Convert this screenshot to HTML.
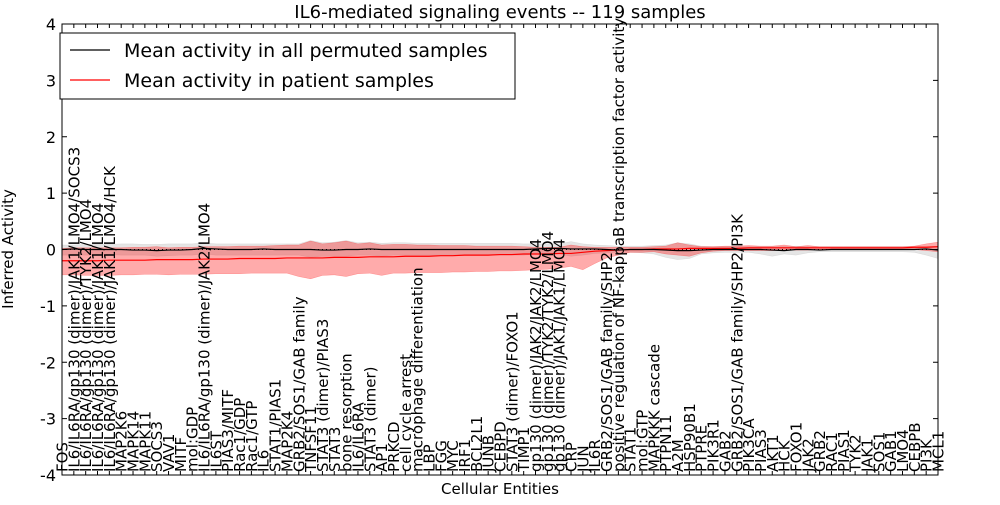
<!DOCTYPE html>
<html><head><meta charset="utf-8"><style>
body{margin:0;background:#fff}
svg{font-family:"DejaVu Sans","Liberation Sans",sans-serif}
</style></head><body>
<svg id="chart" width="1000" height="500" xmlns="http://www.w3.org/2000/svg">
<rect width="1000" height="500" fill="#fff"/>
<text x="500" y="18" text-anchor="middle" font-size="18">IL6-mediated signaling events -- 119 samples</text>
<text x="500" y="494" text-anchor="middle" font-size="15">Cellular Entities</text>
<text transform="translate(13,249) rotate(-90)" text-anchor="middle" font-size="15">Inferred Activity</text>
<g id="plot"></g>
<g id="legend">
<rect x="60" y="33" width="455" height="66" fill="#fff" stroke="#000" stroke-width="1"/>
<line x1="70" y1="50" x2="110" y2="50" stroke="#000" stroke-width="1.2"/>
<text x="124" y="57" font-size="19">Mean activity in all permuted samples</text>
<line x1="70" y1="80" x2="110" y2="80" stroke="#f00" stroke-width="1.2"/>
<text x="124" y="87" font-size="19">Mean activity in patient samples</text>
</g>
</svg>
<script>
const categories=["FOS","IL6/IL6RA/gp130 (dimer)/JAK1/LMO4/SOCS3","IL6/IL6RA/gp130 (dimer)/TYK2/LMO4","IL6/IL6RA/gp130 (dimer)/JAK1/LMO4","IL6/IL6RA/gp130 (dimer)/JAK1/LMO4/HCK","MAP2K6","MAPK14","MAPK11","SOCS3","VAV1","MITF","mol:GDP","IL6/IL6RA/gp130 (dimer)/JAK2/LMO4","IL6ST","PIAS3/MITF","Rac1/GDP","Rac1/GTP","IL6","STAT1/PIAS1","MAP2K4","GRB2/SOS1/GAB family","TNFSF11","STAT3 (dimer)/PIAS3","STAT3","bone resorption","IL6/IL6RA","STAT3 (dimer)","AP1","PRKCD","cell cycle arrest","macrophage differentiation","LBP","FGG","MYC","IRF1","BCL2L1","JUNB","CEBPD","STAT3 (dimer)/FOXO1","TIMP1","gp130 (dimer)/JAK2/JAK2/LMO4","gp130 (dimer)/TYK2/TYK2/LMO4","gp130 (dimer)/JAK1/JAK1/LMO4","CRP","JUN","IL6R","GRB2/SOS1/GAB family/SHP2","positive regulation of NF-kappaB transcription factor activity","STAT1","mol:GTP","MAPKKK cascade","PTPN11","A2M","HSP90B1","PTPRE","PIK3R1","GAB2","GRB2/SOS1/GAB family/SHP2/PI3K","PIK3CA","PIAS3","AKT1","HCK","FOXO1","JAK2","GRB2","RAC1","PIAS1","TYK2","JAK1","SOS1","GAB1","LMO4","CEBPB","PI3K","MCL1"];
const redMean=[-0.2,-0.2,-0.2,-0.2,-0.19,-0.19,-0.19,-0.19,-0.18,-0.18,-0.18,-0.18,-0.17,-0.17,-0.17,-0.16,-0.16,-0.16,-0.16,-0.15,-0.15,-0.15,-0.15,-0.14,-0.14,-0.14,-0.13,-0.13,-0.13,-0.12,-0.12,-0.12,-0.11,-0.11,-0.1,-0.1,-0.1,-0.09,-0.09,-0.08,-0.08,-0.08,-0.07,-0.07,-0.05,-0.03,-0.02,-0.01,0,0,0.01,0.01,0.01,0.02,0.02,0.02,0.02,0.02,0.03,0.03,0.03,0.03,0.03,0.03,0.03,0.03,0.03,0.03,0.03,0.03,0.03,0.03,0.04,0.04,0.05];
const redLo=[-0.45,-0.45,-0.46,-0.46,-0.46,-0.45,-0.45,-0.44,-0.44,-0.45,-0.44,-0.44,-0.44,-0.43,-0.43,-0.43,-0.42,-0.42,-0.42,-0.42,-0.48,-0.52,-0.46,-0.45,-0.48,-0.43,-0.42,-0.46,-0.42,-0.42,-0.41,-0.41,-0.41,-0.4,-0.4,-0.39,-0.39,-0.38,-0.38,-0.37,-0.36,-0.35,-0.33,-0.3,-0.36,-0.25,-0.15,-0.1,-0.05,-0.05,-0.04,-0.08,-0.1,-0.12,-0.06,-0.03,-0.02,-0.02,-0.02,-0.02,-0.02,-0.01,-0.01,-0.01,0,0,0,0,0,0,0,0,0,-0.02,-0.04];
const redHi=[0.02,0.03,0.03,0.03,0.03,0.03,0.04,0.04,0.05,0.03,0.04,0.04,0.05,0.05,0.05,0.06,0.06,0.06,0.07,0.08,0.08,0.15,0.1,0.12,0.15,0.1,0.12,0.08,0.09,0.09,0.08,0.08,0.07,0.07,0.07,0.06,0.06,0.06,0.06,0.05,0.04,0.04,0.04,0.08,0.05,0.04,0.04,0.04,0.04,0.04,0.05,0.06,0.12,0.08,0.05,0.05,0.06,0.06,0.07,0.06,0.06,0.08,0.05,0.07,0.05,0.05,0.05,0.05,0.05,0.05,0.05,0.05,0.06,0.1,0.13];
const blackMean=[0,0.01,0,0,0,0,-0.01,-0.01,-0.02,-0.01,-0.01,0,0.02,0.01,0,0,0,0.01,0,0,0,0,-0.01,-0.01,0,0,0.01,0,0,0,0,0,0,0,0,0,0,0,0,0,0.01,0.02,0.02,0.01,0.01,0.01,0,-0.01,0,0,0,-0.01,-0.02,-0.02,-0.01,0,0,0,0,0,-0.01,-0.02,0,0,-0.01,0,0,0,0,0,0,0,0,0.01,-0.01];
const grayLo=[-0.1,-0.1,-0.1,-0.1,-0.09,-0.1,-0.1,-0.1,-0.12,-0.11,-0.1,-0.1,-0.08,-0.1,-0.1,-0.1,-0.1,-0.1,-0.1,-0.1,-0.1,-0.14,-0.12,-0.12,-0.12,-0.1,-0.1,-0.12,-0.1,-0.1,-0.1,-0.1,-0.1,-0.1,-0.1,-0.1,-0.1,-0.1,-0.1,-0.1,-0.08,-0.08,-0.08,-0.12,-0.1,-0.07,-0.06,-0.05,-0.05,-0.06,-0.08,-0.14,-0.18,-0.16,-0.08,-0.06,-0.05,-0.05,-0.05,-0.08,-0.12,-0.08,-0.1,-0.06,-0.04,-0.04,-0.04,-0.04,-0.04,-0.04,-0.04,-0.04,-0.05,-0.1,-0.16];
const grayHi=[0.08,0.08,0.09,0.09,0.09,0.1,0.1,0.09,0.09,0.1,0.1,0.1,0.12,0.1,0.1,0.1,0.1,0.1,0.1,0.1,0.1,0.16,0.12,0.13,0.16,0.12,0.13,0.11,0.12,0.12,0.11,0.11,0.11,0.11,0.11,0.11,0.11,0.11,0.11,0.1,0.1,0.1,0.1,0.14,0.1,0.08,0.07,0.06,0.06,0.06,0.07,0.08,0.12,0.1,0.06,0.05,0.05,0.05,0.05,0.05,0.05,0.05,0.06,0.05,0.05,0.05,0.05,0.05,0.05,0.05,0.05,0.05,0.05,0.05,0.06];
const yTicks=[-4,-3,-2,-1,0,1,2,3,4];

const L=62,R=938,T=24,B=475,NS="http://www.w3.org/2000/svg";
const xs=i=>L+i*(R-L)/(categories.length-1);
const ys=v=>T+(4-v)*(B-T)/8;
const g=document.getElementById('plot');
function mk(t,a){const e=document.createElementNS(NS,t);for(const k in a)e.setAttribute(k,a[k]);g.appendChild(e);return e;}
function band(lo,hi,fill,op,name){
  let d="M"+hi.map((v,i)=>xs(i)+","+ys(v)).join("L");
  for(let i=lo.length-1;i>=0;i--)d+="L"+xs(i)+","+ys(lo[i]);
  const p=mk('path',{d:d+"Z",fill:fill,'fill-opacity':op,stroke:fill,'stroke-opacity':op,'stroke-width':0.5});
  
  
}
band(grayLo,grayHi,'#999',0.25,'permuted-band');
band(redLo,redHi,'#f00',0.33,'patient-band');
function line(arr,col,name){
  const p=mk('polyline',{points:arr.map((v,i)=>xs(i)+","+ys(v)).join(" "),fill:'none',stroke:col,'stroke-width':1.2});
  
  
}
mk('line',{x1:L,x2:R,y1:ys(0),y2:ys(0),stroke:'#000','stroke-dasharray':'1,3','stroke-width':1});
line(redMean,'#f00','patient-mean-line');
line(blackMean,'#000','permuted-mean-line');
const fr=mk('rect',{x:L,y:T,width:R-L,height:B-T,fill:'none',stroke:'#000','stroke-width':1});


yTicks.forEach(v=>{
  mk('line',{x1:L,x2:L+5,y1:ys(v),y2:ys(v),stroke:'#000'});
  mk('line',{x1:R-5,x2:R,y1:ys(v),y2:ys(v),stroke:'#000'});
  const t=mk('text',{x:L-6,y:ys(v)+6,'text-anchor':'end','font-size':16});
  t.textContent=v;
  
  
});
categories.forEach((c,i)=>{
  const x=xs(i);
  mk('line',{x1:x,x2:x,y1:B,y2:B-4,stroke:'#000'});
  mk('line',{x1:x,x2:x,y1:T,y2:T+4,stroke:'#000'});
  const t=mk('text',{transform:`translate(${x+5.5},${B-3}) rotate(-90)`,'font-size':15});
  t.textContent=c;
  
  
});
</script>
</body></html>
